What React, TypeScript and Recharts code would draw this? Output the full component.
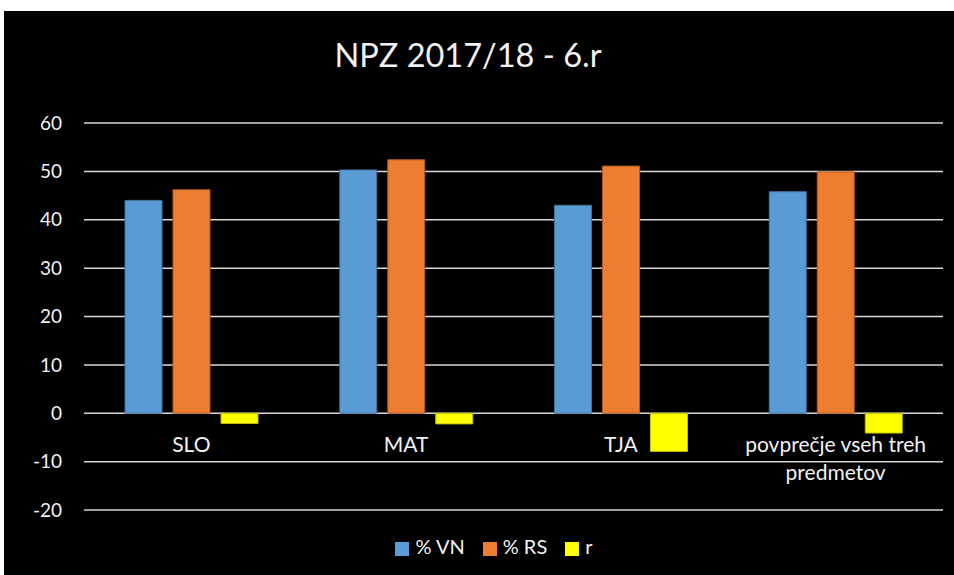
import { Bar, BarChart, CartesianGrid, Legend, XAxis, YAxis } from 'recharts'

const subjects = ['SLO', 'MAT', 'TJA', 'povprečje vseh treh predmetov']
const pctVN = [44.0, 50.3, 43.0, 45.8]
const pctRS = [46.2, 52.4, 51.1, 49.9]
const rDiff = [-2.1, -2.2, -7.9, -4.1]
const yTicks = [-20, -10, 0, 10, 20, 30, 40, 50, 60]

const data = subjects.map((s, i) => ({ s, vn: pctVN[i], rs: pctRS[i], r: rDiff[i] }))

const W = 950
const H = 564
const M = { top: 112, right: 11, bottom: 65, left: 1 }
const PLOT_H = H - M.top - M.bottom
const FONT = 'Lato, "Open Sans", sans-serif'
const TXT = '#f2f2f2'

// Excel puts category labels right under the zero line, wrapped when long
function CatTick({ x, payload }: any) {
  const y0 = M.top + (PLOT_H * 60) / 80
  const words = String(payload.value).split(' ')
  const lines: string[] = []
  let cur = ''
  for (const w of words) {
    if (cur && (cur + ' ' + w).length > 20) {
      lines.push(cur)
      cur = w
    } else cur = cur ? cur + ' ' + w : w
  }
  lines.push(cur)
  return (
    <text x={x} y={y0 + 39} textAnchor="middle" fill={TXT} fontSize={21} fontFamily={FONT}>
      {lines.map((l, i) => (
        <tspan key={i} x={x} dy={i === 0 ? 0 : 28}>
          {l}
        </tspan>
      ))}
    </text>
  )
}

export default function App() {
  return (
    <div style={{ position: 'absolute', left: 4, top: 11, width: W, height: H, background: '#000' }}>
      <div style={{ position: 'absolute', top: 24, left: 0, width: W - 22, textAlign: 'center', color: TXT, fontFamily: FONT, fontSize: 32.5 }}>
        NPZ 2017/18 - 6.r
      </div>
      <BarChart width={W} height={H} data={data} margin={{ ...M, bottom: 0 }} barCategoryGap={41} barGap={11}>
        <CartesianGrid stroke="#d9d9d9" strokeWidth={1.5} vertical={false} />
        <XAxis dataKey="s" axisLine={false} tickLine={false} tick={<CatTick />} interval={0} height={M.bottom} />
        <YAxis
          domain={[-20, 60]}
          ticks={yTicks}
          width={79}
          axisLine={false}
          tickLine={false}
          tickMargin={16}
          tick={{ fill: TXT, fontSize: 19, fontFamily: FONT }}
        />
        <Legend
          verticalAlign="bottom"
          iconType="square"
          iconSize={14}
          itemSorter={null}
          wrapperStyle={{ top: 523, bottom: 'auto', left: 30, height: 0, fontFamily: FONT, fontSize: 20, color: TXT }}
          formatter={(v) => <span style={{ color: TXT, fontSize: 20, paddingLeft: 2, paddingRight: 8 }}>{v}</span>}
        />
        <Bar dataKey="vn" name="% VN" fill="#5b9bd5" stroke="#41719c" strokeWidth={1} isAnimationActive={false} />
        <Bar dataKey="rs" name="% RS" fill="#ed7d31" stroke="#ae5a21" strokeWidth={1} isAnimationActive={false} />
        <Bar dataKey="r" name="r" fill="#ffff00" stroke="#bcbc00" strokeWidth={1} isAnimationActive={false} />
      </BarChart>
    </div>
  )
}
